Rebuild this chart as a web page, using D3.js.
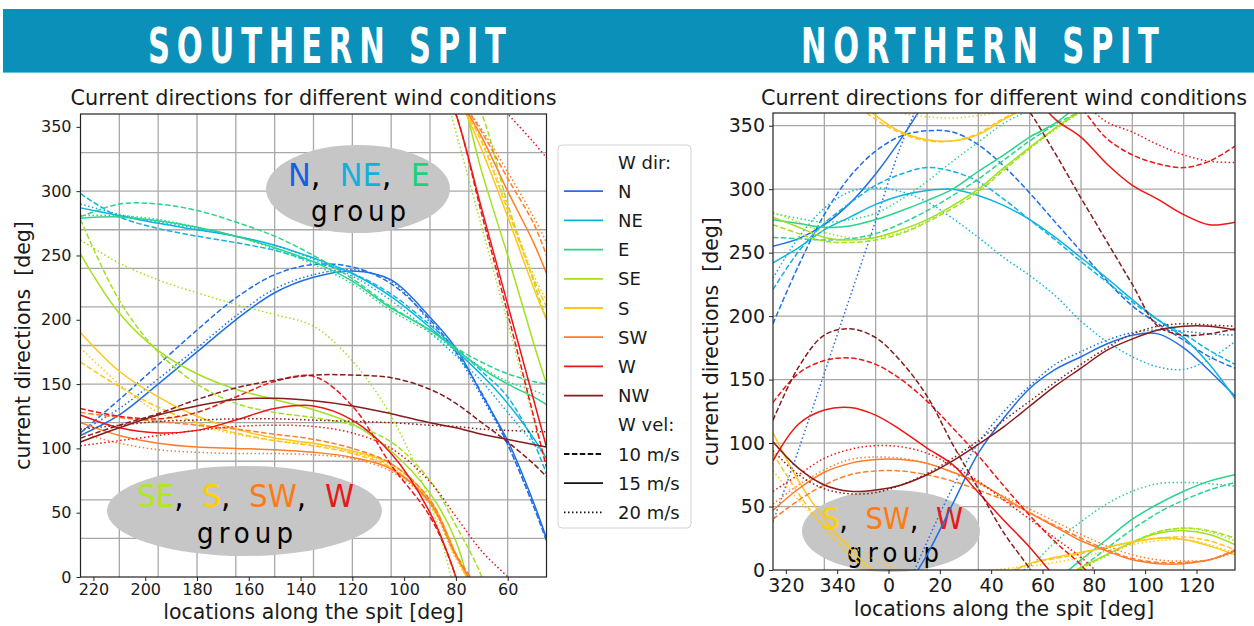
<!DOCTYPE html>
<html><head><meta charset="utf-8">
<script src="https://cdn.jsdelivr.net/npm/d3@7"></script>
<style>
body{margin:0;background:#fff;}
svg text{font-family:"DejaVu Sans",sans-serif;}
</style></head><body>
<svg id="chart" width="1254" height="626"></svg>
<script>
// ---------------- DATA ----------------
const directions = ["N","NE","E","SE","S","SW","W","NW"];
const dirColors = ["#1f6fe5","#0cb4e2","#2ad48a","#a2e11e","#ffc61a","#ff7d2a","#ee1515","#861c1c"];
const velocities = ["10 m/s","15 m/s","20 m/s"];

// Southern spit: locations (deg) and current directions (unwrapped, deg) per wind vel [10,15,20]
const southLocs = [225,210,195,180,165,150,135,120,105,90,80,70,60,50,45];
const southN  = [[112,138,165,192,217,235,243,241,228,200,175,143,103,55,28],
                 [110,126,150,175,200,221,233,238,231,202,178,142,106,58,30],
                 [113,131,154,178,203,224,235,239,230,198,174,140,103,55,30]];
const southNE = [[298,280,271,265,260,254,245,236,220,196,178,160,140,105,80],
                 [287,281,275,270,265,258,248,236,218,194,176,157,135,108,92],
                 [290,282,276,271,265,258,247,234,215,190,172,152,128,104,94]];
const southE  = [[280,290,290,285,276,265,250,232,210,192,178,167,158,152,150],
                 [279,280,277,272,265,256,245,230,209,192,177,162,150,140,134],
                 [281,281,278,272,265,255,243,228,207,190,176,163,152,145,141]];
const southSE = [[278,215,175,150,135,128,124,118,105,75,40,0,-70,-130,-160],
                 [251,205,176,158,146,138,130,119,98,65,28,-45,-110,-178,-210],
                 [262,244,231,221,212,204,195,168,125,58,-14,-88,-162,-237,-274]];
const southS  = [[167,148,132,120,112,106,102,96,85,58,16,-22,-75,-128,-150],
                 [190,160,140,125,115,108,104,98,88,60,18,-28,-80,-135,-160],
                 [178,150,128,118,111,106,103,97,86,56,14,-20,-72,-125,-145]];
const southSW = [[128,124,121,118,115,111,107,100,88,60,18,-14,-50,-85,-110],
                 [120,110,104,101,100,99,97,93,84,58,17,-18,-60,-100,-124],
                 [112,104,99,97,96,96,95,92,82,57,16,-12,-45,-80,-100]];
const southW  = [[131,125,123,128,140,152,156,133,87,47,0,-78,-155,-235,-275],
                 [126,116,112,114,122,131,133,122,96,50,0,-74,-148,-222,-259],
                 [102,106,110,114,117,118,117,112,100,74,47,20,0,-22,-34]];
const southNW = [[108,118,127,138,147,153,157,157,155,146,135,120,105,88,78],
                 [105,116,126,133,138,139,137,133,127,120,116,111,107,103,101],
                 [115,118,121,122,123,123,122,121,120,118,117,115,114,113,113]];

// Northern spit (locations: negative = 360+loc)
const northLocs = [-45,-35,-25,-15,-5,5,15,25,35,45,55,65,75,85,95,105,115,125,135];
const northN  = [[194,240,280,310,330,342,346,345,335,318,297,274,251,228,208,194,181,168,159],
                 [255,261,272,289,312,340,372,412,452,480,503,518,528,538,545,546,535,517,497],
                 [38,95,155,215,275,335,382,425,460,485,505,522,532,541,547,549,548,546,545]];
const northNE = [[221,251,273,289,303,312,317,314,306,292,276,260,243,227,211,197,186,173,162],
                 [242,254,268,278,288,295,299,300,295,287,276,262,246,230,213,197,183,162,135],
                 [230,262,285,298,301,298,290,277,262,246,232,216,196,180,168,160,158,166,180]];
const northE  = [[262,261,260,261,265,273,283,295,308,323,338,351,362,377,392,405,415,423,429],
                 [276,273,270,271,276,283,291,300,314,327,341,352,368,384,400,412,422,430,435],
                 [281,277,274,276,281,292,306,322,337,352,363,382,398,412,422,428,429,428,426]];
const northSE = [[272,265,259,258,260,265,274,285,298,315,332,348,361,372,382,390,393,391,385],
                 [278,270,262,260,262,268,276,287,300,317,333,348,362,372,382,389,391,388,380],
                 [282,274,266,262,262,266,275,287,300,316,332,347,361,371,381,390,393,390,383]];
const northS  = [[92,60,33,12,-5,-16,-22,-22,-16,-4,5,9,13,18,22,25,26,23,16],
                 [108,70,40,17,-2,-15,-21,-22,-17,-5,5,10,14,18,22,25,24,19,12],
                 [78,55,35,20,8,0,-3,-4,-2,1,3,6,10,15,20,23,24,20,13]];
const northSW = [[40,55,67,75,78,78,75,70,63,55,45,35,25,16,9,6,6,8,16],
                 [47,64,77,84,87,87,84,77,69,57,45,34,23,15,8,5,5,8,15],
                 [52,67,79,87,89,88,84,77,68,58,48,38,28,19,12,8,7,8,14]];
const northW  = [[132,155,165,167,162,150,133,112,90,66,43,22,4,-20,-33,-40,-43,-38,-26],
                 [86,115,126,128,122,110,96,83,61,39,18,-5,-19,-40,-57,-68,-80,-88,-86],
                 [62,75,88,95,98,97,92,82,70,55,40,25,10,-7,-15,-25,-33,-38,-39]];
const northNW = [[118,160,185,190,183,164,137,99,64,29,1,-32,-67,-101,-135,-168,-175,-174,-170],
                 [101,80,67,62,63,67,75,86,99,113,129,145,159,173,182,189,192,192,189],
                 [94,75,64,60,61,67,76,88,102,118,133,148,162,175,186,192,194,193,192]];

const southXTicks = [220,200,180,160,140,120,100,80,60];
const northXTicks = [-40,-20,0,20,40,60,80,100,120];
const northXTickLabels = ["320","340","0","20","40","60","80","100","120"];
const yTicks = [0,50,100,150,200,250,300,350];
const southGridX = [210,195,180,165,150,135,120,105,90,75,60];
const southGridY = [30,60,90,120,150,180,210,240,270,300,330];
const northGridX = [-25,-5,15,35,55,75,95,115];
const northGridY = [50,100,150,200,250,300,350];

// ---------------- DRAW ----------------
const svg = d3.select("#chart");
const velDash = ["5.5,2.4", null, "1.5,2.5"];
const condensed = "'DejaVu Sans Condensed','DejaVu Sans',sans-serif";

// header band
svg.append("rect").attr("x",3).attr("y",9).attr("width",1251).attr("height",64).attr("fill","#0a90b9");
svg.append("line").attr("x1",3).attr("x2",1254).attr("y1",72.5).attr("y2",72.5).attr("stroke","#5cc3de").attr("stroke-width",1);
[["SOUTHERN SPIT",148],["NORTHERN SPIT",801]].forEach(([t,x0])=>{
  const hg = svg.append("g");
  const tx = hg.append("text").attr("x",0).attr("y",0).attr("fill","#fff")
    .style("font-family",condensed).style("font-weight","bold").style("font-size","50px")
    .style("letter-spacing","10px").text(t);
  const len = tx.node().getComputedTextLength() - 10;
  hg.attr("transform",`translate(${x0},63) scale(${358/len},1)`);
});

function drawPanel(cfg){
  const g = svg.append("g");
  const x = d3.scaleLinear().domain(cfg.xDomain).range([cfg.left,cfg.right]);
  const y = d3.scaleLinear().domain([0,360]).range([cfg.bottom,cfg.top]);
  const clipId = "clip-"+cfg.id;
  svg.append("clipPath").attr("id",clipId).append("rect")
    .attr("x",cfg.left).attr("y",cfg.top).attr("width",cfg.right-cfg.left).attr("height",cfg.bottom-cfg.top);

  // grid
  g.selectAll(null).data(cfg.gridX).join("line")
    .attr("x1",d=>x(d)).attr("x2",d=>x(d)).attr("y1",cfg.top).attr("y2",cfg.bottom)
    .attr("stroke","#a8a8a8").attr("stroke-width",1.3);
  g.selectAll(null).data(cfg.gridY).join("line")
    .attr("y1",d=>y(d)).attr("y2",d=>y(d)).attr("x1",cfg.left).attr("x2",cfg.right)
    .attr("stroke","#a8a8a8").attr("stroke-width",1.3);

  // annotation ellipses
  cfg.notes.forEach(n=>{
    g.append("ellipse").attr("cx",n.cx).attr("cy",n.cy).attr("rx",n.rx).attr("ry",n.ry).attr("fill","#c6c6c6");
    const t = g.append("text").attr("x",n.x0).attr("y",n.base)
      .attr("xml:space","preserve").style("white-space","pre")
      .style("font-family",condensed).style("font-size",n.fs+"px")
      .attr("textLength",n.w).attr("lengthAdjust","spacingAndGlyphs");
    t.text(n.tokens.map(d=>d[0]).join(""));
    // colour the letters with an overlay that reuses the same layout
    t.text(null);
    n.tokens.forEach(tk=>{ t.append("tspan").text(tk[0]).attr("fill",tk[1]); });
    g.append("text").attr("x",n.gx).attr("y",n.gbase).text("group").attr("fill","#000")
      .style("font-family",condensed).style("font-size",n.gfs+"px")
      .attr("textLength",n.gw).attr("lengthAdjust","spacing");
  });

  // curves
  const curves = g.append("g").attr("clip-path",`url(#${clipId})`);
  cfg.series.forEach((set,di)=>{
    set.forEach((vals,vi)=>{
      const pts = cfg.locs.map((l,i)=>[l,vals[i]]);
      [-360,0,360].forEach(off=>{
        const line = d3.line().x(d=>x(d[0])).y(d=>y(d[1]+off)).curve(d3.curveCatmullRom.alpha(0.5));
        curves.append("path").attr("d",line(pts)).attr("fill","none")
          .attr("stroke",dirColors[di]).attr("stroke-width",1.5)
          .attr("stroke-dasharray",velDash[vi]);
      });
    });
  });

  // frame
  g.append("rect").attr("x",cfg.left).attr("y",cfg.top).attr("width",cfg.right-cfg.left)
    .attr("height",cfg.bottom-cfg.top).attr("fill","none").attr("stroke","#222").attr("stroke-width",1.2);

  // axes
  const xa = g.append("g").attr("transform",`translate(0,${cfg.bottom})`)
    .call(d3.axisBottom(x).tickValues(cfg.xTicks).tickFormat(cfg.xFmt).tickSize(4).tickPadding(cfg.xPad));
  const ya = g.append("g").attr("transform",`translate(${cfg.left},0)`)
    .call(d3.axisLeft(y).tickValues(yTicks).tickSize(4).tickPadding(cfg.yPad));
  [xa,ya].forEach(a=>{
    a.select(".domain").remove();
    a.selectAll("line").attr("stroke","#222");
    a.selectAll("text").style("font-size",cfg.tickFs+"px").attr("fill","#1a1a1a").style("font-family","'DejaVu Sans',sans-serif");
  });

  // titles
  g.append("text").attr("x",(cfg.left+cfg.right)/2).attr("y",cfg.titleY).attr("text-anchor","middle")
    .text("Current directions for different wind conditions").style("font-size","20.5px").attr("fill","#1a1a1a")
    .attr("textLength",486).attr("lengthAdjust","spacingAndGlyphs");
  g.append("text").attr("x",(cfg.left+cfg.right)/2).attr("y",cfg.xlabY).attr("text-anchor","middle")
    .text("locations along the spit [deg]").style("font-size","20.5px").attr("fill","#1a1a1a");
  g.append("text").attr("transform",`translate(${cfg.ylabX},${(cfg.top+cfg.bottom)/2}) rotate(-90)`)
    .attr("text-anchor","middle").style("white-space","pre").attr("xml:space","preserve")
    .text("current directions  [deg]").style("font-size","20.5px").attr("fill","#1a1a1a");
}

drawPanel({
  id:"south", left:80.5, right:546.5, top:114, bottom:577, xDomain:[225,45],
  locs:southLocs, series:[southN,southNE,southE,southSE,southS,southSW,southW,southNW],
  gridX:southGridX, gridY:southGridY, xTicks:southXTicks, xFmt:d=>d,
  xPad:3, yPad:5, tickFs:16, titleY:105, xlabY:619, ylabX:30,
  notes:[
    {cx:358,cy:189,rx:92,ry:44,x0:288,w:142,base:186,fs:32,
     tokens:[["N","#1560e0"],[",  ","#000"],["NE","#10b2dc"],[",  ","#000"],["E","#1fd07a"]],
     gx:311,gbase:221,gfs:29,gw:95},
    {cx:244.5,cy:511,rx:137.5,ry:45,x0:137,w:217,base:507,fs:32,
     tokens:[["SE","#b0e81a"],[",  ","#000"],["S","#ffcf00"],[",  ","#000"],["SW","#ff7a12"],[",  ","#000"],["W","#e81818"]],
     gx:197,gbase:543,gfs:29,gw:96}
  ]
});

drawPanel({
  id:"north", left:773, right:1235, top:113, bottom:570, xDomain:[-45,135],
  locs:northLocs, series:[northN,northNE,northE,northSE,northS,northSW,northW,northNW],
  gridX:northGridX, gridY:northGridY, xTicks:northXTicks,
  xFmt:(d,i)=>northXTickLabels[i],
  xPad:5, yPad:4, tickFs:19, titleY:105, xlabY:616, ylabX:718,
  notes:[
    {cx:891,cy:531,rx:89,ry:41,x0:822,w:141,base:529,fs:30,
     tokens:[["S","#ffcf00"],[",  ","#000"],["SW","#ff7a12"],[",  ","#000"],["W","#e81818"]],
     gx:847,gbase:562,gfs:27,gw:92}
  ]
});

// legend
const lg = svg.append("g");
lg.append("rect").attr("x",558).attr("y",145).attr("width",133).attr("height",383).attr("rx",4)
  .attr("fill","#fff").attr("fill-opacity",0.85).attr("stroke","#d2d2d2").attr("stroke-width",1);
const legendItems = [{label:"W dir:"}]
  .concat(directions.map((d,i)=>({label:d,color:dirColors[i],dash:null})))
  .concat([{label:"W vel:"}])
  .concat(velocities.map((v,i)=>({label:v,color:"#111",dash:velDash[i]})));
legendItems.forEach((it,i)=>{
  const cy = 162 + i*29.2;
  if(it.color){
    lg.append("line").attr("x1",564).attr("x2",603).attr("y1",cy).attr("y2",cy)
      .attr("stroke",it.color).attr("stroke-width",1.8).attr("stroke-dasharray",it.dash);
  }
  lg.append("text").attr("x",618).attr("y",cy+6.5).text(it.label).style("font-size","18px").attr("fill","#1a1a1a");
});
</script></body></html>
